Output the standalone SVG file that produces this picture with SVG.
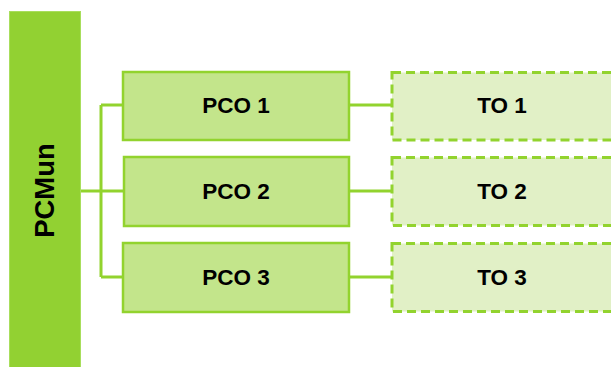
<svg xmlns="http://www.w3.org/2000/svg" width="611" height="367" viewBox="0 0 611 367">
<style>
.t{font-family:"Liberation Sans",Arial,sans-serif;font-weight:bold;font-size:22.5px;fill:#000;text-anchor:middle;dominant-baseline:central}
.pco{fill:#c3e58b;stroke:#92d32e;stroke-width:2.5}
.to{fill:#e1f0c6;stroke:#92d32e;stroke-width:3;stroke-dasharray:9 5}
.c{fill:none;stroke:#92d32e;stroke-width:3}
</style>
<g id="connectors">
<path class="c" d="M80 191H123M101 105V277M101 105H123M101 277H123"/>
<path class="c" d="M349 105H392M349 191H392M349 277H392"/>
</g>
<g id="pcmun">
<rect x="9.5" y="11.5" width="71" height="356" fill="#92d132" stroke="#a8de5c" stroke-width="1"/>
<text class="t" style="font-size:27.5px" transform="translate(44 190.5) rotate(-90)">PCMun</text>
</g>
<g id="pco1"><rect class="pco" x="123" y="72" width="226" height="68"/><text class="t" x="236" y="105">PCO 1</text></g>
<g id="pco2"><rect class="pco" x="124" y="157" width="225" height="69" stroke-width="3.5"/><text class="t" x="236" y="191">PCO 2</text></g>
<g id="pco3"><rect class="pco" x="123" y="243" width="226" height="69"/><text class="t" x="236" y="277">PCO 3</text></g>
<g id="to1"><rect class="to" x="392" y="72.5" width="230" height="67.5"/><text class="t" x="502" y="105">TO 1</text></g>
<g id="to2"><rect class="to" x="392" y="157.5" width="230" height="68"/><text class="t" x="502" y="191">TO 2</text></g>
<g id="to3"><rect class="to" x="392" y="243.5" width="230" height="68"/><text class="t" x="502" y="277">TO 3</text></g>
</svg>
